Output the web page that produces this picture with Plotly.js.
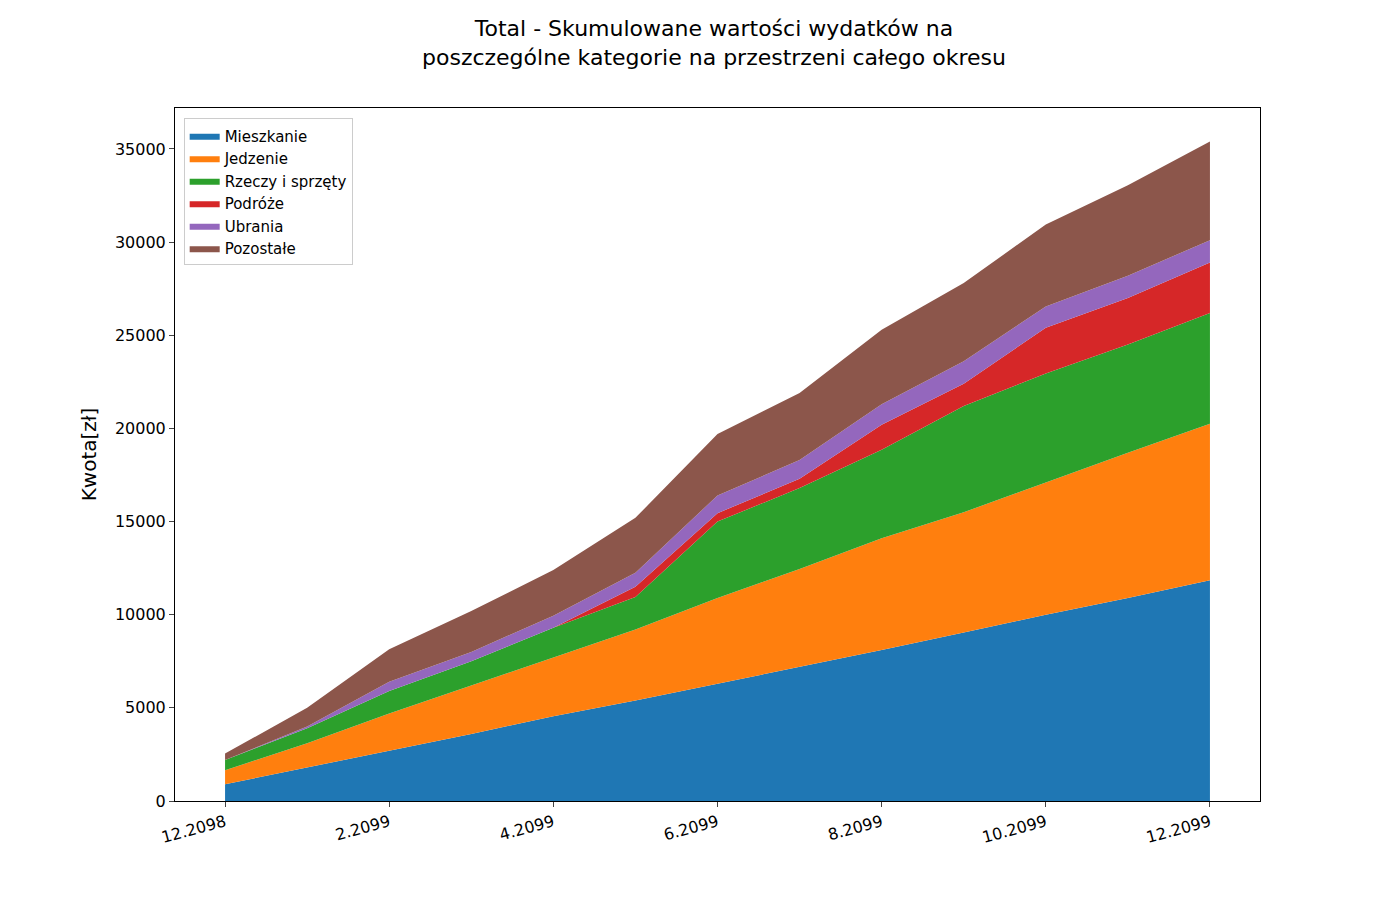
<!DOCTYPE html>
<html><head><meta charset="utf-8">
<script src="https://cdn.plot.ly/plotly-3.0.1.min.js"></script>
<style>body{margin:0}#c{width:1400px;height:900px}</style>
</head><body><div id="c"></div>
<script>
// months shown along the x axis (index 0..12)
const months = ["12.2098","1.2099","2.2099","3.2099","4.2099","5.2099","6.2099",
                "7.2099","8.2099","9.2099","10.2099","11.2099","12.2099"];
const categories = ["Mieszkanie","Jedzenie","Rzeczy i sprzęty","Podróże","Ubrania","Pozostałe"];
const colors = ["#1f77b4","#ff7f0e","#2ca02c","#d62728","#9467bd","#8c564b"];

// cumulative spending per category (layer thickness, zł)
const mieszkanie = [900,1800,2700,3600,4550,5400,6300,7200,8100,9050,10000,10900,11850];
const jedzenie   = [750,1300,2000,2600,3150,3800,4600,5250,6000,6450,7100,7800,8400];
const rzeczy     = [550,800,1200,1300,1600,1750,4100,4350,4750,5700,5850,5800,5950];
const podroze    = [0,0,0,0,0,550,450,500,1350,1200,2450,2500,2700];
const ubrania    = [0,100,500,500,650,750,950,1000,1100,1200,1150,1200,1200];
const pozostale  = [350,1000,1750,2200,2450,2950,3300,3600,4000,4200,4400,4850,5300];
const series = [mieszkanie, jedzenie, rzeczy, podroze, ubrania, pozostale];

const xs = months.map((_, i) => i);
const traces = series.map((vals, i) => ({
    x: xs, y: vals, name: categories[i],
    type: "scatter", mode: "lines", stackgroup: "one",
    line: { width: 0, color: colors[i] },
    fillcolor: colors[i],
    hoverinfo: "skip",
}));

const layout = {
    width: 1400, height: 900,
    paper_bgcolor: "white", plot_bgcolor: "white",
    font: { family: "DejaVu Sans", color: "black" },
    margin: { l: 175, r: 140, t: 108, b: 99 },
    title: { text: "Total - Skumulowane wartości wydatków na<br>poszczególne kategorie na przestrzeni całego okresu",
             font: { size: 22 }, x: 0.51, xanchor: "center", y: 0.96, yanchor: "top" },
    xaxis: {
        range: [-0.61, 12.61], showgrid: false, zeroline: false,
        tickvals: [0,2,4,6,8,10,12], ticktext: [0,2,4,6,8,10,12].map(i => months[i]),
        tickangle: -15, ticks: "outside", ticklen: 5, tickfont: { size: 16 },
        showline: true, mirror: true, linecolor: "black", linewidth: 1,
    },
    yaxis: {
        range: [0, 37200], showgrid: false, zeroline: false,
        dtick: 5000, ticks: "outside", ticklen: 5, tickfont: { size: 16 },
        tickformat: "d",
        title: { text: "Kwota[zł]", font: { size: 20 }, standoff: 12 },
        showline: true, mirror: true, linecolor: "black", linewidth: 1,
    },
    legend: {
        x: 0.008, y: 0.985, xanchor: "left", yanchor: "top",
        traceorder: "normal", bordercolor: "#cccccc", borderwidth: 1,
        bgcolor: "rgba(255,255,255,0.8)", font: { size: 15 },
    },
    showlegend: true,
};

Plotly.newPlot("c", traces, layout, { staticPlot: true });
</script></body></html>
